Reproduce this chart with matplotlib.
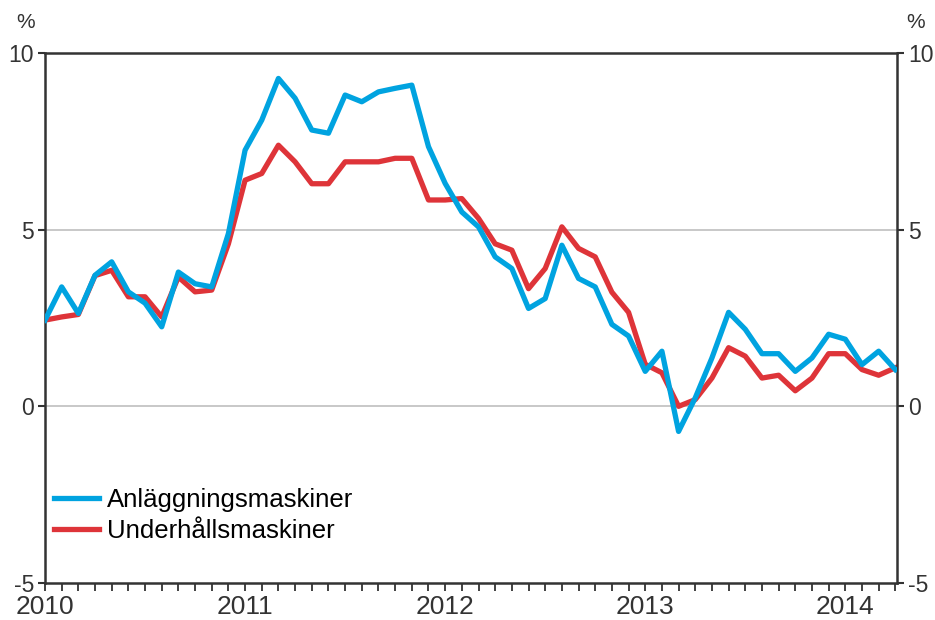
import numpy as np
import matplotlib
matplotlib.use("Agg")
import matplotlib.pyplot as plt

# monthly values, Jan 2010 - Apr 2014 (annual change, %)
anlaggning = [2.44, 3.38, 2.63, 3.71, 4.09, 3.24, 2.92, 2.25, 3.80, 3.47, 3.38, 4.89,
              7.25, 8.10, 9.28, 8.72, 7.82, 7.73, 8.81, 8.62, 8.90, 9.00, 9.09, 7.35,
              6.31, 5.50, 5.08, 4.23, 3.90, 2.77, 3.05, 4.56, 3.62, 3.38, 2.32, 1.99,
              0.99, 1.56, -0.71, 0.24, 1.37, 2.66, 2.18, 1.49, 1.49, 0.99, 1.37, 2.04,
              1.90, 1.18, 1.56, 1.04]
underhall = [2.44, 2.53, 2.60, 3.70, 3.85, 3.10, 3.10, 2.53, 3.66, 3.24, 3.29, 4.60,
             6.40, 6.59, 7.39, 6.92, 6.30, 6.30, 6.92, 6.92, 6.92, 7.02, 7.02, 5.84,
             5.84, 5.88, 5.32, 4.60, 4.42, 3.33, 3.90, 5.08, 4.47, 4.23, 3.23, 2.66,
             1.19, 0.95, 0.00, 0.19, 0.80, 1.66, 1.42, 0.80, 0.88, 0.44, 0.80, 1.49,
             1.49, 1.04, 0.88, 1.09]
series_names = ["Anläggningsmaskiner", "Underhållsmaskiner"]
years = ["2010", "2011", "2012", "2013", "2014"]
yticks = [-5, 0, 5, 10]

plt.rcParams["font.family"] = ["Liberation Sans", "DejaVu Sans"]

blue = "#00a3e0"
red = "#de3439"
spine_c = "#333333"
text_c = "#333333"

fig = plt.figure(figsize=(9.35, 6.2), dpi=100)
ax = fig.add_axes([45/935, 1-583/620, (897-45)/935, (583-53)/620])

x = np.arange(len(anlaggning))
ax.plot(x, anlaggning, color=blue, lw=3.8, solid_joinstyle="round", label=series_names[0], zorder=3)
ax.plot(x, underhall, color=red, lw=3.8, solid_joinstyle="round", label=series_names[1], zorder=2)

ax.set_xlim(0, 51.1)
ax.set_ylim(-5, 10)

# grid lines only at inner ticks
for v in [0, 5]:
    ax.axhline(v, color="#c8c8c8", lw=1.4, zorder=1)

ax.set_yticks(yticks)
ax.set_yticklabels([str(v) for v in yticks])
ax.tick_params(axis="y", which="both", direction="out", length=5, width=1.5, color=spine_c,
               labelsize=16.5, labelcolor=text_c, pad=3, left=True, right=True,
               labelleft=True, labelright=True)

ax.set_xticks(np.arange(0, 52))
ax.set_xticklabels([years[i // 12] if i % 12 == 0 else "" for i in range(52)])
ax.tick_params(axis="x", direction="out", length=6, width=1.3, color=spine_c,
               labelsize=19, labelcolor=text_c, pad=3)

for s in ax.spines.values():
    s.set_color(spine_c)
    s.set_linewidth(1.8)

fig.text(26/935, 1-22/620, "%", ha="center", va="center", fontsize=15, color=text_c)
fig.text(916/935, 1-22/620, "%", ha="center", va="center", fontsize=15, color=text_c)

ax.legend(loc="upper left", bbox_to_anchor=(0.011, 0.18), frameon=False,
          fontsize=18.5, handlelength=1.75, handletextpad=0.3, labelspacing=0.3,
          borderpad=0, borderaxespad=0)

fig.savefig("out.png", dpi=100)
